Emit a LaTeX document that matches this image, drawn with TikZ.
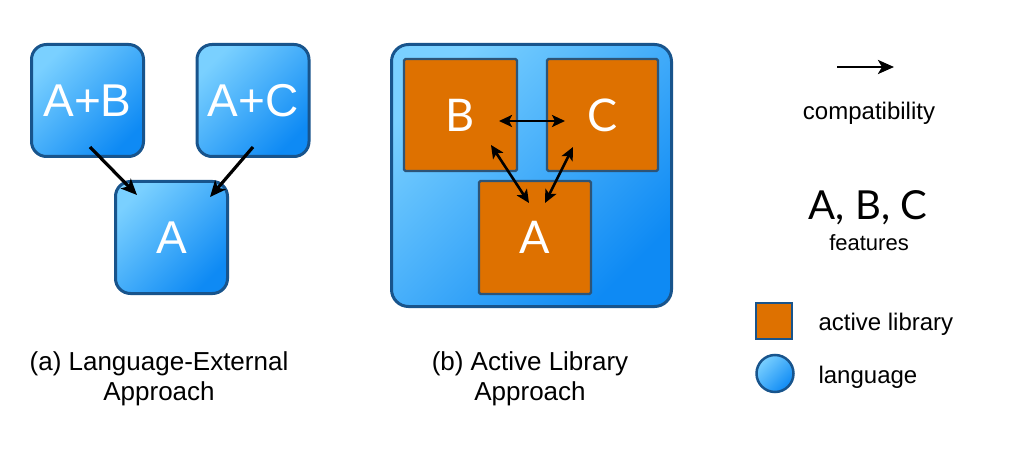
\documentclass[tikz,border=0pt]{standalone}
\usepackage{fontspec}
\setmainfont{Liberation Sans}
\newfontfamily\gill{Lato}
\usetikzlibrary{arrows.meta,calc}
\definecolor{lightb}{RGB}{122,208,255}
\definecolor{darkb}{RGB}{14,138,244}
\definecolor{bord}{RGB}{24,84,140}
\definecolor{obord}{RGB}{44,84,120}
\definecolor{orng}{RGB}{222,113,0}
\begin{document}
\begin{tikzpicture}[x=1pt,y=-1pt,
  langbox/.style={draw=bord, line width=3pt, rounded corners=15pt,
    top color=lightb, bottom color=darkb, shading angle=45,
    minimum width=112pt, minimum height=112pt, inner sep=0pt,
    text=white, font=\fontsize{46}{46}\selectfont},
  libbox/.style={draw=obord, line width=2.2pt, fill=orng, rounded corners=1.5pt,
    inner sep=0pt, text=white, font=\gill\fontsize{45}{45}\selectfont},
  arr/.style={line width=3.2pt, -{Stealth[length=16pt,width=14pt,inset=4pt]}},
  darr/.style={line width=2.6pt, {Stealth[length=13pt,width=12pt,inset=3pt]}-{Stealth[length=13pt,width=12pt,inset=3pt]}},
  caption/.style={font=\fontsize{26}{30}\selectfont, anchor=base},
  legtxt/.style={font=\fontsize{24}{28}\selectfont, anchor=base west},
]
\useasboundingbox (0,0) rectangle (1024,454);
\fill[white] (0,0) rectangle (1024,454);

% (a) language-external approach
\node[langbox] (AB) at (87.5,100.5) {A+B};
\node[langbox] (AC) at (253,100.5) {A+C};
\node[langbox] (A1) at (171.5,237.5) {A};
\draw[arr] ([shift={(2.5,-11)}]AB.south) -- ([shift={(23,15)}]A1.north west);
\draw[arr] ([shift={(0,-11)}]AC.south) -- ([shift={(-19,17)}]A1.north east);

% (b) active library approach
\node[draw=bord, line width=3pt, rounded corners=17pt,
  top color=lightb, bottom color=darkb, shading angle=45,
  minimum width=280pt, minimum height=262pt, inner sep=0pt] (outer) at (531.5,175.5) {};
\node[libbox, minimum width=113pt, minimum height=112pt] (B) at (460.5,115) {B};
\node[libbox, minimum width=111pt, minimum height=112pt] (C) at (602.5,115) {C};
\node[libbox, minimum width=112pt, minimum height=113pt] (A2) at (535,237.5) {A};
\draw[darr] ([shift={(38.5,6)}]B.center) -- ([shift={(-37.5,6)}]C.center);
\draw[darr] ([shift={(30.5,30)}]B.center) -- ([shift={(-6,-34.5)}]A2.center);
\draw[darr] ([shift={(-29.5,32)}]C.center) -- ([shift={(10,-34.5)}]A2.center);

% captions
\node[caption] (capa1) at (159,370) {(a) Language-External};
\node[caption] (capa2) at (159,400) {Approach};
\node[caption] (capb1) at (530,370) {(b) Active Library};
\node[caption] (capb2) at (530,400) {Approach};

% legend
\coordinate (lgs) at (837,67);
\coordinate (lge) at (894,67);
\draw[arr, line width=2.8pt] (lgs) -- (lge);
\node[font=\fontsize{24}{28}\selectfont, anchor=base] (comp) at (869,120) {compatibility};
\node[font=\gill\fontsize{40}{40}\selectfont, anchor=base] (abc) at (868,220) {A, B, C};
\node[font=\fontsize{22}{26}\selectfont, anchor=base] (feat) at (869,250) {features};
\node[draw=bord, line width=2.5pt, fill=orng, minimum size=36pt, inner sep=0pt] (lgsq) at (774,321) {};
\node[legtxt] (actlib) at (815,330) {active library};
\node[draw=bord, line width=2.5pt, circle, top color=lightb, bottom color=darkb, shading angle=45,
  minimum size=37pt, inner sep=0pt] (lgci) at (775,373.5) {};
\node[legtxt] (lang) at (815,383) {language};
\end{tikzpicture}
\end{document}
